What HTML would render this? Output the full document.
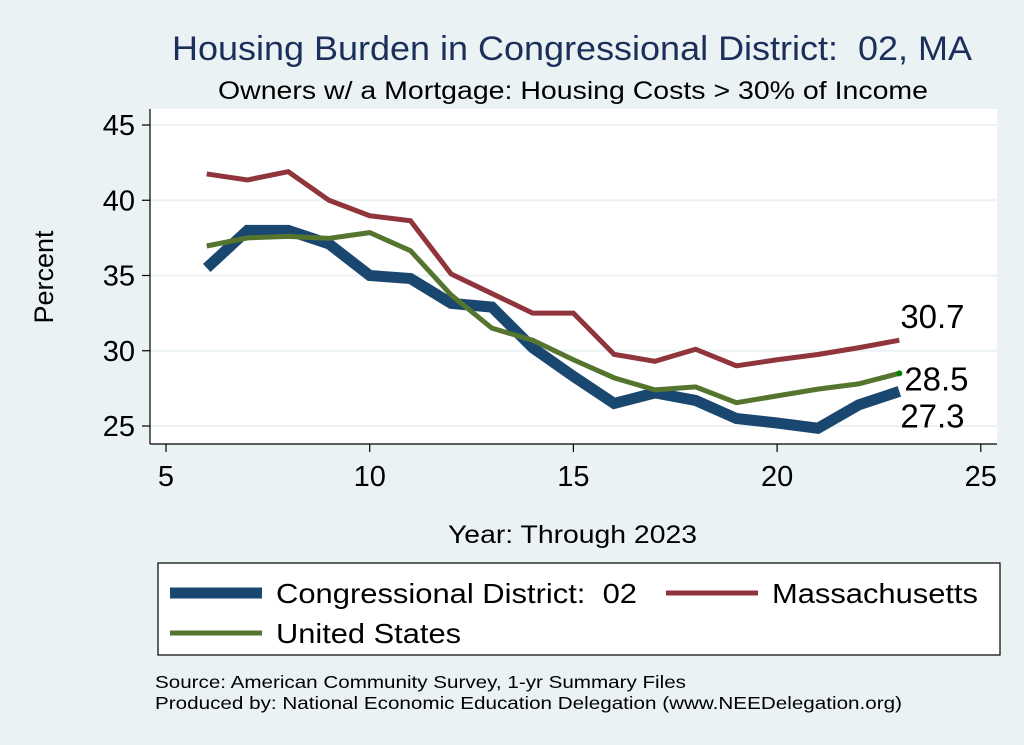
<!DOCTYPE html>
<html><head><meta charset="utf-8"><style>
body{margin:0;width:1024px;height:745px;background:#eaf2f3;font-family:"Liberation Sans",sans-serif;overflow:hidden}
text{white-space:pre}
</style></head><body>
<svg width="1024" height="745" id="chart" style="position:absolute;left:0;top:0">
<rect x="0" y="0" width="1024" height="745" fill="#eaf2f3"/>
<text x="172" y="60" font-size="34" fill="#1a2f5a" textLength="800" lengthAdjust="spacingAndGlyphs">Housing Burden in Congressional District:  02, MA</text>
<text x="218" y="99" font-size="25" fill="#000" textLength="710" lengthAdjust="spacingAndGlyphs">Owners w/ a Mortgage: Housing Costs &gt; 30% of Income</text>
<rect x="150" y="109" width="847" height="335" fill="#fff"/>
<g id="grid"></g>
<g id="series"></g>
<g id="axes"></g>
<text x="53" y="277" font-size="27" text-anchor="middle" transform="rotate(-90 53 277)">Percent</text>
<text x="448" y="543" font-size="25" textLength="249" lengthAdjust="spacingAndGlyphs">Year: Through 2023</text>
<rect x="158" y="563" width="842" height="92" fill="#fff" stroke="#000" stroke-width="1.2"/>
<g>
<line x1="170" y1="593" x2="262" y2="593" stroke="#1a476f" stroke-width="11"/>
<text x="276" y="603" font-size="28" textLength="361" lengthAdjust="spacingAndGlyphs">Congressional District:  02</text></g>
<g>
<line x1="666" y1="593" x2="758" y2="593" stroke="#90353b" stroke-width="5"/>
<text x="772" y="603" font-size="28" textLength="206" lengthAdjust="spacingAndGlyphs">Massachusetts</text></g>
<g>
<line x1="170" y1="633" x2="262" y2="633" stroke="#55752f" stroke-width="5"/>
<text x="276" y="643" font-size="28" textLength="185" lengthAdjust="spacingAndGlyphs">United States</text></g>
<text x="155" y="688" font-size="17.5" textLength="531" lengthAdjust="spacingAndGlyphs">Source: American Community Survey, 1-yr Summary Files</text>
<text x="155" y="709" font-size="17.5" textLength="747" lengthAdjust="spacingAndGlyphs">Produced by: National Economic Education Delegation (www.NEEDelegation.org)</text>
</svg>
<script>
const years=[6,7,8,9,10,11,12,13,14,15,16,17,18,19,20,21,22,23];
const district=[35.5,38.0,38.0,37.1,35.0,34.8,33.15,32.9,30.2,28.3,26.5,27.2,26.7,25.5,25.2,24.85,26.4,27.3];
const mass=[41.75,41.35,41.9,40.0,38.97,38.64,35.1,33.8,32.5,32.5,29.76,29.3,30.1,29.0,29.4,29.75,30.2,30.7];
const us=[36.96,37.5,37.6,37.47,37.85,36.65,33.7,31.5,30.7,29.4,28.2,27.4,27.6,26.55,27.0,27.45,27.8,28.5];
const yTicks=[25,30,35,40,45];
const xTicks=[5,10,15,20,25];
const NS="http://www.w3.org/2000/svg";
const xs=v=>166+(v-5)*40.74;
const ys=v=>426-(v-25)*15.05;
function mk(t,a,p){const e=document.createElementNS(NS,t);for(const k in a)e.setAttribute(k,a[k]);p.appendChild(e);return e;}
const grid=document.getElementById('grid'),axes=document.getElementById('axes'),ser=document.getElementById('series');
yTicks.forEach(v=>{
 const g=mk('line',{x1:150,x2:997,y1:ys(v),y2:ys(v),stroke:'#eaf2f3','stroke-width':2},grid);
 
 
 const t=mk('line',{x1:142,x2:150,y1:ys(v),y2:ys(v),stroke:'#000','stroke-width':1.2},axes);
 
 
 const l=mk('text',{x:135,y:ys(v)+10,'font-size':29,'text-anchor':'end'},axes);
 l.textContent=v;
 
 
});
xTicks.forEach(v=>{
 const t=mk('line',{x1:xs(v),x2:xs(v),y1:444,y2:452,stroke:'#000','stroke-width':1.2},axes);
 
 
 const l=mk('text',{x:xs(v),y:486,'font-size':29,'text-anchor':'middle'},axes);
 l.textContent=v;
 
 
});
const ya=mk('line',{x1:150,x2:150,y1:109,y2:444,stroke:'#000','stroke-width':1.2},axes);


const xa=mk('line',{x1:150,x2:997,y1:444,y2:444,stroke:'#000','stroke-width':1.2},axes);


function line(vals,color,w,name){
 const p=mk('polyline',{points:vals.map((v,i)=>xs(years[i])+','+ys(v)).join(' '),fill:'none',stroke:color,'stroke-width':w,'stroke-linejoin':'miter'},ser);
 
 
}
line(mass,'#90353b',5,'massachusetts-line');
line(district,'#1a476f',11,'district-line');
line(us,'#55752f',5,'united-states-line');
const last=years.length-1;
const lx=xs(years[last]);
const dot=mk('circle',{cx:lx,cy:ys(us[last]),r:3,fill:'#008000'},ser);


[[mass,-12,'massachusetts-end-label'],[us,17,'united-states-end-label'],[district,36,'district-end-label']].forEach(([arr,dy,n])=>{
 const t=mk('text',{x:lx+(n.startsWith('united')?5:1),y:ys(arr[last])+dy,'font-size':33},ser);
 t.textContent=arr[last].toFixed(1);
 
 
});
</script>
</body></html>
